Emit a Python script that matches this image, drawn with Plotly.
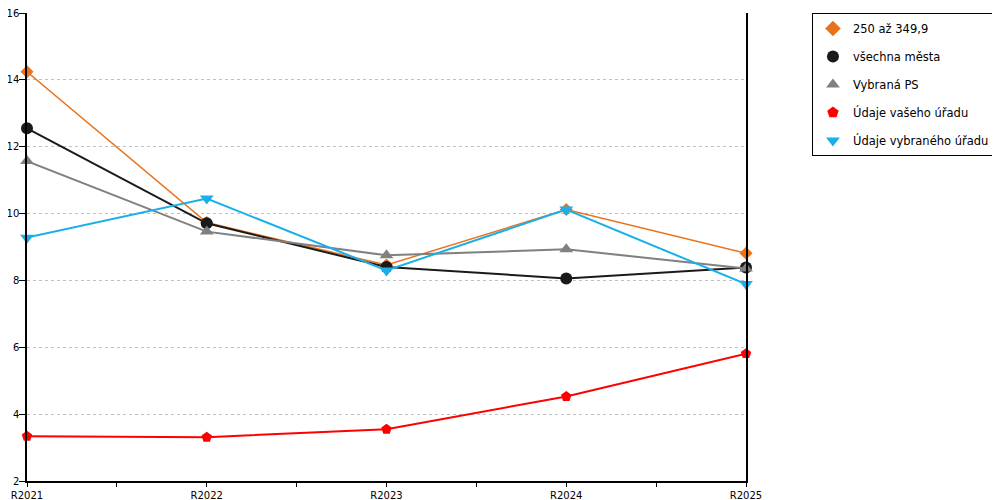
import plotly.graph_objects as go

roky = ["R2021", "R2022", "R2023", "R2024", "R2025"]

mesta_250 = [14.24, 9.73, 8.46, 10.12, 8.81]
vsechna_mesta = [12.55, 9.71, 8.40, 8.06, 8.39]
vybrana_ps = [11.57, 9.46, 8.75, 8.93, 8.36]
vas_urad = [3.34, 3.31, 3.55, 4.53, 5.81]
vybrany_urad = [9.28, 10.45, 8.30, 10.12, 7.89]

x = list(range(len(roky)))

serie = [
    ("250 až 349,9", mesta_250, "#E8731C", "diamond", 1.5, 10),
    ("všechna města", vsechna_mesta, "#1A1A1A", "circle", 2, 12),
    ("Vybraná PS", vybrana_ps, "#808080", "triangle-up", 2, 12),
    ("Údaje vašeho úřadu", vas_urad, "#FF0000", "pentagon", 2, 11),
    ("Údaje vybraného úřadu", vybrany_urad, "#1AAFE8", "triangle-down", 2, 12),
]

fig = go.Figure()
for nazev, hodnoty, barva, znak, sirka, vel in serie:
    fig.add_trace(go.Scatter(
        x=x, y=hodnoty, name=nazev, mode="lines+markers",
        line=dict(color=barva, width=sirka),
        marker=dict(symbol=znak, size=vel, color=barva),
        cliponaxis=False, showlegend=False,
    ))
    # legenda jen se znackou, bez cary
    fig.add_trace(go.Scatter(
        x=[None], y=[None], name=nazev, mode="markers",
        marker=dict(symbol=znak, size=vel, color=barva),
        legendgroup=nazev,
    ))

# stranka ma okraj 8 px, proto je graf o 8 px mensi a okraje posunute
fig.update_layout(
    width=992, height=492,
    margin=dict(l=19, r=251, t=5, b=19),
    plot_bgcolor="white", paper_bgcolor="white",
    font=dict(family="DejaVu Sans", size=10, color="black"),
    showlegend=True,
    legend=dict(
        x=(991 - 19) / 722, y=1.0, xanchor="right", yanchor="top",
        bordercolor="black", borderwidth=1,
        font=dict(size=11.5), tracegroupgap=9,
        itemsizing="constant", itemwidth=30,
    ),
)
fig.update_xaxes(
    range=[0, 4], tickvals=x, ticktext=roky, automargin=False,
    showline=True, linecolor="black", linewidth=1.5,
    ticks="outside", ticklen=4, tickcolor="black",
    minor=dict(tickvals=[0.5, 1.5, 2.5, 3.5], ticks="outside", ticklen=4, tickcolor="black"),
    showgrid=False, zeroline=False,
)
fig.update_yaxes(
    range=[2, 16], dtick=2, automargin=False,
    showline=True, mirror=True, linecolor="black", linewidth=1.5,
    ticks="outside", ticklen=6, tickcolor="black", ticklabelstandoff=-2,
    ticklabeloverflow="allow",
    showgrid=True, gridcolor="#C0C0C0", griddash="dot", gridwidth=1,
    zeroline=False,
)

fig.write_html("out.html")
